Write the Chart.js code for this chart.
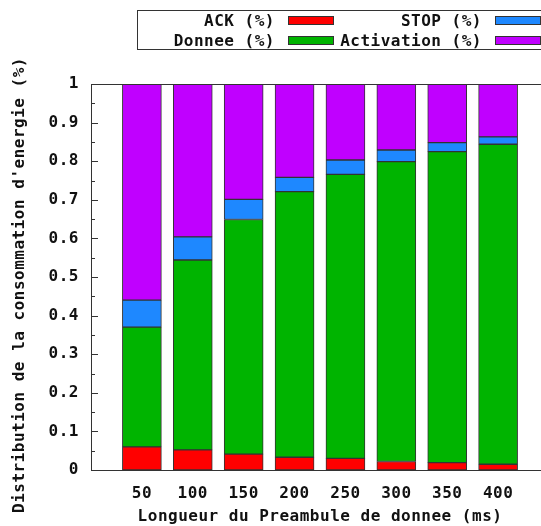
<!DOCTYPE html>
<html>
<head>
<meta charset="utf-8">
<script src="https://cdn.jsdelivr.net/npm/chart.js@4"></script>
<style>
  html, body { margin: 0; padding: 0; overflow: hidden; background: #fff; }
</style>
</head>
<body>
<canvas id="chart" width="560" height="526"></canvas>
<script>
const preambles = [50, 100, 150, 200, 250, 300, 350, 400];
const ack = [0.060, 0.052, 0.041, 0.033, 0.030, 0.022, 0.019, 0.015];
const donnee = [0.310, 0.492, 0.608, 0.688, 0.736, 0.777, 0.806, 0.829];
const stop = [0.070, 0.060, 0.052, 0.037, 0.037, 0.030, 0.023, 0.019];
const activation = [0.560, 0.396, 0.299, 0.242, 0.197, 0.171, 0.152, 0.137];
const yTicks = [0, 0.1, 0.2, 0.3, 0.4, 0.5, 0.6, 0.7, 0.8, 0.9, 1];
const yTitle = "Distribution de la consommation d'energie (%)";

const FONT = { family: '"DejaVu Sans Mono", monospace', size: 16, weight: 'bold' };
const INK = '#111';

const series = [
  { label: 'ACK (%)', values: ack, color: '#ff0000' },
  { label: 'Donnee (%)', values: donnee, color: '#00b400' },
  { label: 'STOP (%)', values: stop, color: '#1e88ff' },
  { label: 'Activation (%)', values: activation, color: '#c000ff' },
];

const datasets = series.map(s => ({
  label: s.label,
  data: preambles.map((x, i) => ({ x, y: s.values[i] })),
  backgroundColor: s.color,
  borderColor: '#333',
  borderWidth: 1,
  borderSkipped: false,
  barThickness: 39,
}));

// gnuplot-like frame, inward ticks, y title and boxed legend
const frame = {
  id: 'frame',
  beforeDraw(chart) {
    chart.ctx.letterSpacing = '0.5px';
  },
  afterDraw(chart) {
    const { ctx, chartArea: a, scales } = chart;
    const y = scales.y;
    ctx.save();
    ctx.strokeStyle = '#333';
    ctx.lineWidth = 1;
    ctx.strokeRect(Math.round(a.left) + 0.5, Math.round(a.top) + 0.5,
      Math.round(a.right - a.left), Math.round(a.bottom - a.top));
    ctx.beginPath();
    for (let i = 0; i < yTicks.length; i++) {
      const py = Math.round(y.getPixelForValue(yTicks[i])) + 0.5;
      ctx.moveTo(a.left, py); ctx.lineTo(a.left + 7, py);
      ctx.moveTo(a.right, py); ctx.lineTo(a.right - 7, py);
      if (i < yTicks.length - 1) {
        const pm = Math.round(y.getPixelForValue((yTicks[i] + yTicks[i + 1]) / 2)) + 0.5;
        ctx.moveTo(a.left, pm); ctx.lineTo(a.left + 4, pm);
        ctx.moveTo(a.right, pm); ctx.lineTo(a.right - 4, pm);
      }
    }
    ctx.stroke();

    ctx.font = 'bold 16px "DejaVu Sans Mono", monospace';
    ctx.fillStyle = INK;

    // y title, rotated
    ctx.save();
    ctx.translate(20, 285);
    ctx.rotate(-Math.PI / 2);
    ctx.textAlign = 'center';
    ctx.textBaseline = 'middle';
    ctx.fillText(yTitle, 0, 0);
    ctx.restore();

    // legend: two columns, text right-aligned before the swatch
    ctx.strokeRect(137.5, 10.5, 500, 39);
    ctx.textAlign = 'right';
    ctx.textBaseline = 'middle';
    const slots = [[275, 21], [275, 41], [482, 21], [482, 41]];
    chart.data.datasets.forEach((ds, i) => {
      const [tx, ty] = slots[i];
      ctx.fillStyle = INK;
      ctx.fillText(ds.label, tx, ty + 1);
      ctx.fillStyle = ds.backgroundColor;
      ctx.fillRect(tx + 13, ty - 4, 45, 8);
      ctx.strokeStyle = '#333';
      ctx.strokeRect(tx + 13.5, ty - 4.5, 45, 8);
    });
    ctx.restore();
  }
};

new Chart(document.getElementById('chart'), {
  type: 'bar',
  data: { datasets },
  plugins: [frame],
  options: {
    responsive: false,
    animation: false,
    layout: { padding: { left: 0, top: 84, right: 11, bottom: 0 } },
    plugins: { legend: { display: false }, tooltip: { enabled: false } },
    scales: {
      x: {
        type: 'linear',
        min: 0,
        max: 450,
        offset: false,
        stacked: true,
        grid: { display: false, drawTicks: false },
        border: { display: false },
        afterBuildTicks: scale => { scale.ticks = preambles.map(v => ({ value: v })); },
        ticks: { font: FONT, color: INK, padding: 14, maxRotation: 0, autoSkip: false },
        title: {
          display: true,
          text: 'Longueur du Preambule de donnee (ms)',
          font: FONT, color: INK, padding: { top: 6, bottom: 0 }
        },
        afterFit: scale => { scale.height = 56; }
      },
      y: {
        min: 0,
        max: 1,
        stacked: true,
        grid: { display: false, drawTicks: false },
        border: { display: false },
        afterBuildTicks: scale => { scale.ticks = yTicks.map(v => ({ value: v })); },
        ticks: { font: FONT, color: INK, padding: 12, callback: v => String(+v.toFixed(1)) },
        afterFit: scale => { scale.width = 91; }
      }
    }
  }
});
</script>
</body>
</html>
